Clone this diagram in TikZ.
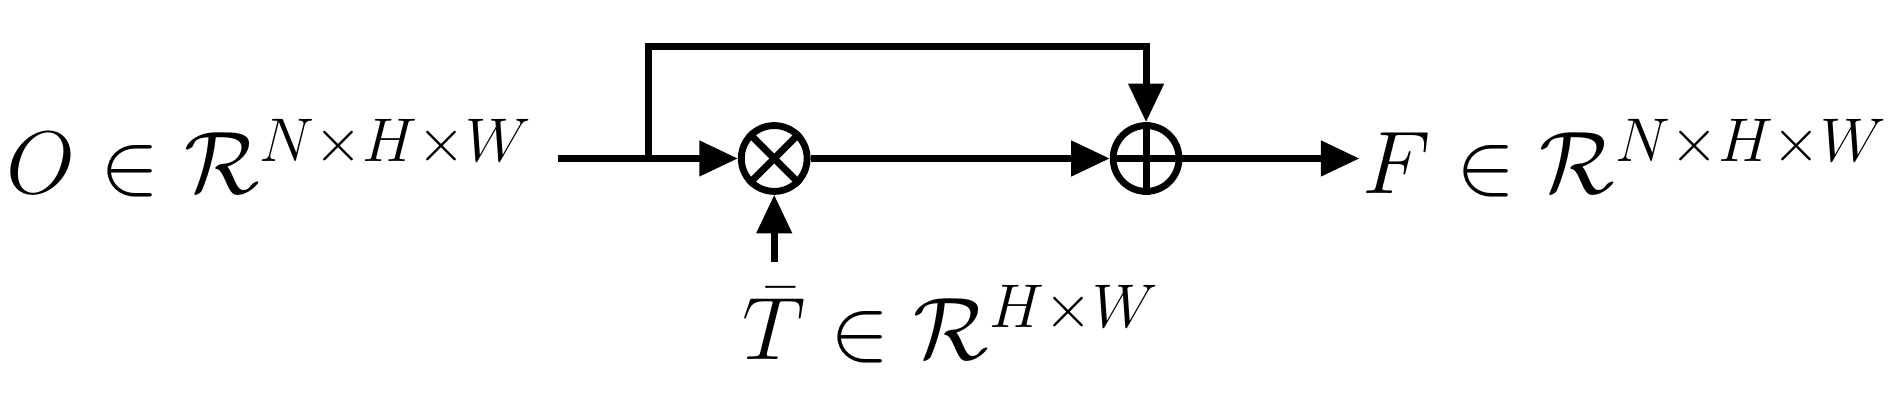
\documentclass[tikz,border=0pt]{standalone}
\usepackage{amsmath,amssymb}
\usetikzlibrary{arrows.meta}
\begin{document}
\begin{tikzpicture}[
    line width=1.6pt,
    flow/.style={-{Triangle[length=9pt,width=8pt]}},
    opnode/.style={shape=circle,draw,line width=1.6pt,minimum size=0.54cm,inner sep=0pt},
    lbl/.style={font=\fontsize{20}{24}\selectfont,inner sep=0pt}
]
    \useasboundingbox (0,0) rectangle (15.6,3.36);

    \node[opnode] (mul) at (6.35,2.06) {};
    \draw[line width=1.6pt] (mul.north west) to (mul.south east);
    \draw[line width=1.6pt] (mul.north east) to (mul.south west);
    \node[opnode] (add) at (9.40,2.06) {};
    \draw[line width=1.6pt] (add.north) to (add.south);
    \draw[line width=1.6pt] (add.west) to (add.east);

    \node[lbl,anchor=east] (inp) at (4.40,2.06) {$O\in\mathcal{R}^{N\times H\times W}$};
    \node[lbl,anchor=west] (out) at (11.15,2.06) {$F\in\mathcal{R}^{N\times H\times W}$};
    \node[lbl] (att) at (7.8,0.70) {$\bar{T}\in\mathcal{R}^{H\times W}$};

    \coordinate (start) at (4.58,2.06);
    \coordinate (branch) at (5.32,2.06);
    \coordinate (tstart) at (6.35,1.21);

    \draw (start) to (branch);
    \draw[flow] (branch) to (mul);
    \draw[flow] (mul) to (add);
    \draw[flow] (add) to (out);
    \draw[flow] (branch) |- (9.40,2.98) to (add);
    \draw[flow] (tstart) to (mul);
\end{tikzpicture}
\end{document}
